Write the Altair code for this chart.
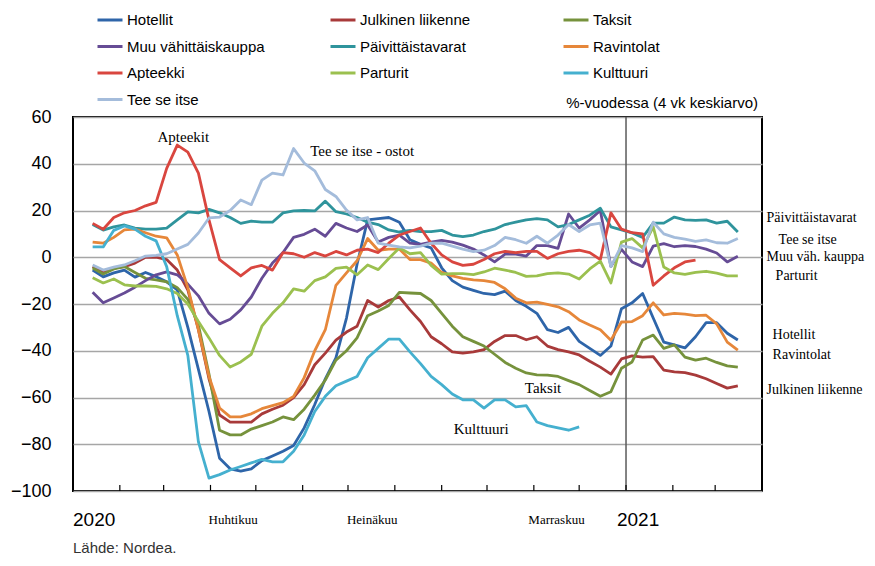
import altair as alt
import pandas as pd

# ---------------- data ----------------
series_names = ["Hotellit", "Julkinen liikenne", "Taksit",
                "Muu vähittäiskauppa", "Päivittäistavarat", "Ravintolat",
                "Apteekki", "Parturit", "Kulttuuri", "Tee se itse"]
series_colors = ["#2e65a9", "#a83a3a", "#76923c",
                 "#664c95", "#2f949c", "#e6873a",
                 "#d9463f", "#9bc04f", "#45b0cf", "#a4bcdb"]

week_dates = pd.date_range("2020-01-14", periods=62, freq="7D")

hotellit = [-5.5,-8.4,-6.7,-5.5,-8.5,-6.5,-8.3,-10.5,-14,-30,
            -48,-66,-86,-90.5,-91.5,-90.5,-87,-85,-83,-80.5,
            -73,-63,-52,-43,-26,-3,16,16.5,17,15,
            7.5,5.5,4,-4.5,-10,-12.8,-14.2,-15.5,-16,-14.5,
            -18.5,-21,-24,-31,-32.2,-30,-36,-39,-42,-38,
            -22,-19.5,-15.5,-26,-36.3,-37.5,-38.8,-34,-28,-28,
            -32.5,-35.4]
julkinen = [-4,-6.5,-4.6,-4,-2.5,0,0,-1,-5.5,-14,
            -31,-52,-67.5,-70.5,-70.5,-70.5,-67,-65,-63.3,-60,
            -54.5,-46,-41,-35.5,-32,-29.5,-18.5,-21.3,-18.5,-17,
            -22.5,-27.5,-34,-37,-40.5,-41,-40.5,-39.5,-36,-33.5,
            -33.5,-35.3,-34,-38,-39.5,-40.5,-41.8,-44.5,-47,-50,
            -43.5,-42.2,-42.7,-42.5,-48.3,-49,-49.4,-50.4,-52,-54,
            -56,-55]
taksit = [-4.6,-7.2,-5,-4,-6.5,-9,-9.7,-10.5,-13,-18,
          -29,-50,-74,-76,-76,-73.5,-72,-70.5,-68.3,-69.5,
          -65,-59,-52.5,-44,-40,-34.5,-25,-23,-20.6,-15,
          -15.3,-15.5,-18.5,-24,-29.5,-34,-36,-38,-41.5,-45,
          -47.5,-49.5,-50.3,-50.4,-51,-52.8,-54.5,-57,-59.5,-57.5,
          -47.5,-44.8,-35.4,-33.3,-39,-37.5,-42.7,-44,-43.2,-45,
          -46.5,-47]
muu = [-15,-19.5,-17.4,-15.3,-12.8,-10,-7.5,-6.3,-7.5,-11.5,
       -16.5,-24,-28.5,-26.5,-22.5,-17,-9,-2.5,2,8.5,
       9.8,12,9,14.5,12.5,11,13.8,6.5,8.5,9.5,
       6,5.5,6.5,7.2,6.5,5.2,3.5,1,-2,1.3,
       1.3,0.5,5,5,3.8,18.5,12.5,16,20,-4,
       3.4,-2,-4,4.8,5.8,4.5,5,4.6,3.5,1.8,
       -2,0.4]
paivit = [14,11.6,13,13.8,12.5,12,12,12.5,16,19.4,
          19,20.5,19,17,14.5,15.5,15,15,19,19.8,
          20,19.8,24,19.5,18.5,17,15,14,11.7,10.8,
          11.5,11,11,11.5,9.5,8.8,9.5,11,12,14,
          15,16,16.5,16,13,14,16,18,21,13,
          11.7,10.4,8.5,14.6,14.6,17.2,16,15.8,16,14.6,
          15.4,10.8]
ravintolat = [6.5,6,8.5,11.7,12,10.5,9,8.3,1,-13,
              -31,-51,-64.5,-68.3,-68.3,-67,-64.8,-63.5,-62.2,-59.5,
              -51.5,-40,-31,-12,-6.7,-1.5,8,3,3.5,3.5,
              -1,-1,-2.5,-6.5,-8,-9,-9.7,-10,-10.8,-13.5,
              -17.5,-19.5,-19.2,-20.2,-21.2,-23.3,-26.8,-29,-31,-35.5,
              -27.7,-27.5,-25,-19.5,-24.7,-24,-24.3,-25,-24.8,-28.5,
              -36.3,-39.7]
apteekki = [14.5,12,17,19,20,22,23.5,38,48,45,
            36,16,-1,-4.5,-8,-4.5,-3.5,-5.5,2,1.5,
            0,2,0.5,2.5,1,3,3.5,2,6,9.5,
            11,12.5,6,1,-2,-3.5,-3,-1,1.5,2.5,
            2,2.5,2.5,-0.5,1.5,2.5,3,2,-1,19,
            12,10.5,10,-12,-8,-4.5,-2,-1.2,
            None,None,None,None]
parturit = [-8.8,-11,-9.3,-11.8,-12.3,-12.3,-12.5,-13.5,-15.5,-20,
            -27.5,-34.5,-42,-47,-44.8,-41.5,-29.5,-24,-19.5,-13.5,
            -14.5,-10,-8.4,-4.8,-4.2,-7.5,-3.3,-5.3,-0.5,4,
            1.5,2,-3.5,-7.2,-7,-7,-7.4,-6.3,-4.7,-5.5,
            -6.5,-8.2,-8,-7,-6.7,-7.2,-9.3,-5,-1.7,-11,
            6.5,8,4,13,-4.2,-6.7,-7.3,-6.5,-6,-6.8,
            -8,-8]
kulttuuri = [4.4,4.4,11.5,13.4,12,9,7,-4,-25,-42,
             -79,-94.5,-93,-91,-89.5,-88,-86.5,-87.5,-87.5,-83,
             -76,-66,-59.5,-55,-53,-51,-43,-39,-35,-35,
             -40.5,-45.5,-51,-54.5,-58.5,-61,-61,-64.5,-61,-61,
             -64,-63.5,-70.5,-72,-73,-74,-72.6] + [None] * 15
tee = [-3.3,-5.5,-4.2,-3.3,-1.5,0.5,0.8,1.5,3.5,5.5,
       10.4,16.8,17.2,20,24.5,22.5,33,36,35.2,46.5,
       40.3,37,29,26,20.2,16,17,6,5.2,4.4,
       4,4.8,6,6,4.8,3.5,2.4,3,5,8.5,
       7.5,6,9,6,9.5,14,11,13.8,14.6,-4,
       5,4,2.4,15,10,8.5,7.8,6.8,7.4,6.2,
       6,8]

all_values = [hotellit, julkinen, taksit, muu, paivit, ravintolat,
              apteekki, parturit, kulttuuri, tee]

rows = []
for name, vals in zip(series_names, all_values):
    for d, v in zip(week_dates, vals):
        if v is not None:
            rows.append({"date": d, "series": name, "value": v})
df = pd.DataFrame(rows)

# annotation texts on the plot
ann_center = pd.DataFrame({"date": [pd.Timestamp("2020-03-14")], "value": [51.4], "text": ["Apteekit"]})
ann_left = pd.DataFrame({
    "date": pd.to_datetime(["2020-06-06", "2020-10-26", "2020-09-09"]),
    "value": [45.5, -55.9, -73.5],
    "text": ["Tee se itse - ostot", "Taksit", "Kulttuuri"],
})
ann_right = pd.DataFrame({
    "date": pd.to_datetime(["2021-04-04", "2021-04-12", "2021-04-04", "2021-04-10",
                            "2021-04-08", "2021-04-08", "2021-04-04"]),
    "value": [16.8, 7.4, 0.0, -8.1, -33.3, -41.8, -56.8],
    "text": ["Päivittäistavarat", "Tee se itse", "Muu väh. kauppa", "Parturit",
             "Hotellit", "Ravintolat", "Julkinen liikenne"],
})

month_labels = pd.DataFrame({"date": pd.to_datetime(["2020-04-16", "2020-07-17", "2020-11-16"]),
                             "label": ["Huhtikuu", "Heinäkuu", "Marraskuu"]})
year_labels = pd.DataFrame({"date": pd.to_datetime(["2020-01-15", "2021-01-09"]),
                            "label": ["2020", "2021"]})
tick_dates = pd.DataFrame({"date": pd.date_range("2020-02-01", "2021-04-01", freq="MS"),
                           "y0": -100.0, "y1": -97.4})
year_line = pd.DataFrame({"date": [pd.Timestamp("2021-01-01")]})

# ---------------- chart ----------------
x_scale = alt.Scale(domain=[alt.DateTime(year=2020, month=1, date=1),
                            alt.DateTime(year=2021, month=4, date=1)])
y_scale = alt.Scale(domain=[-100, 60], nice=False, zero=False)

lines = alt.Chart(df).mark_line(strokeWidth=2.8, strokeJoin="round").encode(
    x=alt.X("date:T", scale=x_scale, axis=None),
    y=alt.Y("value:Q", scale=y_scale,
            axis=alt.Axis(values=[60, 40, 20, 0, -20, -40, -60, -80, -100], title=None,
                          grid=True, gridColor="#a6a6a6", gridWidth=1.5,
                          domain=False, ticks=False, labelFont="Liberation Sans",
                          labelFontSize=18, labelColor="black", labelPadding=22,
                          labelOverlap=False)),
    color=alt.Color("series:N",
                    scale=alt.Scale(domain=series_names, range=series_colors),
                    legend=alt.Legend(title=None, orient="none", legendX=23, legendY=-111,
                                      direction="horizontal",
                                      columns=3, symbolType="stroke", symbolSize=625,
                                      symbolStrokeWidth=3, labelFont="Liberation Sans",
                                      labelFontSize=15, labelColor="black",
                                      columnPadding=59, rowPadding=4.5, gridAlign="all",
                                      labelOffset=3, padding=0, labelLimit=300)),
    detail="series:N",
)

vline = alt.Chart(year_line).mark_rule(color="#5a5a5a", strokeWidth=1.5).encode(
    x=alt.X("date:T", scale=x_scale, axis=None))

ticks = alt.Chart(tick_dates).mark_rule(color="black", strokeWidth=1.2).encode(
    x=alt.X("date:T", scale=x_scale, axis=None),
    y=alt.Y("y0:Q", scale=y_scale), y2="y1:Q")

txt_c = alt.Chart(ann_center).mark_text(font="Liberation Serif", fontSize=15, align="center",
                                        baseline="middle", color="black").encode(
    x=alt.X("date:T", scale=x_scale, axis=None), y=alt.Y("value:Q", scale=y_scale), text="text:N")
txt_l = alt.Chart(ann_left).mark_text(font="Liberation Serif", fontSize=15, align="left",
                                      baseline="middle", color="black").encode(
    x=alt.X("date:T", scale=x_scale, axis=None), y=alt.Y("value:Q", scale=y_scale), text="text:N")
txt_r = alt.Chart(ann_right).mark_text(font="Liberation Serif", fontSize=14, align="left",
                                       baseline="middle", color="black").encode(
    x=alt.X("date:T", scale=x_scale, axis=None), y=alt.Y("value:Q", scale=y_scale), text="text:N")

months = alt.Chart(month_labels).mark_text(font="Liberation Serif", fontSize=13, align="center",
                                           baseline="middle", color="black").encode(
    x=alt.X("date:T", scale=x_scale, axis=None), y=alt.value(403), text="label:N")
years = alt.Chart(year_labels).mark_text(font="Liberation Sans", fontSize=19, align="center",
                                         baseline="middle", color="black").encode(
    x=alt.X("date:T", scale=x_scale, axis=None), y=alt.value(403), text="label:N")

unit_note = alt.Chart(pd.DataFrame({"t": ["%-vuodessa (4 vk keskiarvo)"]})).mark_text(
    font="Liberation Sans", fontSize=15, align="right", baseline="middle", color="black").encode(
    x=alt.value(685), y=alt.value(-14), text="t:N")
source = alt.Chart(pd.DataFrame({"t": ["Lähde: Nordea."]})).mark_text(
    font="Liberation Sans", fontSize=15, align="left", baseline="middle", color="#333333").encode(
    x=alt.value(0), y=alt.value(431), text="t:N")

chart = alt.layer(vline, lines, ticks, txt_c, txt_l, txt_r, months, years, unit_note, source).properties(
    width=689, height=374,
    autosize=alt.AutoSizeParams(type="none"),
    padding={"left": 65, "top": 109, "right": 105, "bottom": 67},
    background="white",
).configure_view(stroke="black", strokeWidth=2)

chart.save("out.html", embed_options={"renderer": "svg", "actions": False})
